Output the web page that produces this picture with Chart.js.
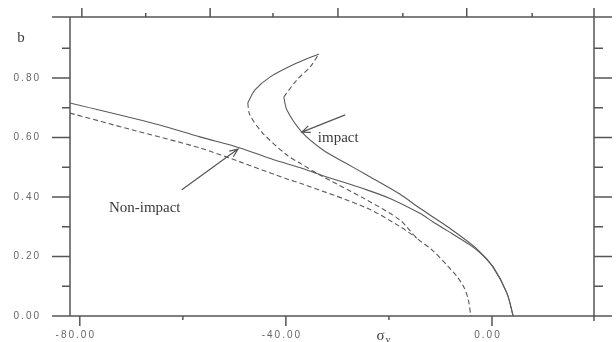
<!DOCTYPE html>
<html>
<head>
<meta charset="utf-8">
<script src="https://cdn.jsdelivr.net/npm/chart.js@4.4.1/dist/chart.umd.min.js"></script>
<style>
  html, body { margin: 0; padding: 0; background: #fff; }
  #wrap { width: 616px; height: 342px; }
</style>
</head>
<body>
<div id="wrap"><canvas id="chart"></canvas></div>
<script>
// Curves as [sigma_y, b] pairs
// impact curve, split where its line style changes
const impactRight = [[4.1, 0], [2.9, 0.077], [0.2, 0.165], [-2.9, 0.225], [-8.7, 0.301], [-14.0, 0.362],
    [-17.9, 0.410], [-24.3, 0.474], [-28.5, 0.515], [-32.8, 0.558], [-36.9, 0.618], [-39.8, 0.692], [-40.4, 0.736]];
const impactTipRight = [[-40.4, 0.736], [-37.9, 0.793], [-35.3, 0.837], [-33.6, 0.881]];
const impactTipLeft = [[-33.6, 0.881], [-37.9, 0.850], [-43.1, 0.803], [-46.0, 0.760], [-47.4, 0.716]];
const impactLeft = [[-47.4, 0.716], [-47.0, 0.676], [-44.5, 0.615], [-39.8, 0.541], [-37.3, 0.514],
    [-33.4, 0.474], [-24.3, 0.390], [-17.9, 0.323], [-14.6, 0.262], [-11.5, 0.220], [-8.7, 0.170],
    [-6.8, 0.133], [-5.4, 0.095], [-4.6, 0.055], [-4.1, 0]];

// non-impact curves (the dashed one joins the impact dashed line near -14.6)
const nonImpactSolid = [[-81.9, 0.716], [-64.5, 0.642], [-56.7, 0.602], [-48.9, 0.565], [-42.5, 0.526],
    [-37.3, 0.499], [-33.2, 0.474], [-24.3, 0.424], [-19.8, 0.395], [-14.0, 0.345], [-11.5, 0.317],
    [-8.7, 0.287], [-4.3, 0.239], [-2.3, 0.212], [0.2, 0.165], [2.9, 0.077], [4.1, 0]];
const nonImpactDashed = [[-81.9, 0.682], [-69.7, 0.625], [-56.7, 0.565], [-48.9, 0.518], [-39.2, 0.457],
    [-37.3, 0.447], [-24.3, 0.363], [-17.9, 0.301], [-14.6, 0.262]];

// axes
const xMin = -81.9, xMax = 19.8;
const yMin = 0, yMax = 1.005;
const xLabelValues = [-80, -40, 0];
const xMinorBottom = [-60, -20];
const xMajorTop = [-79.6, -54.7, -29.9, -4.9];
const xMinorTop = [-67.2, -42.5, -17.3, 7.8];
const yLabelValues = [0, 0.2, 0.4, 0.6, 0.8];
const yMinor = [0.1, 0.3, 0.5, 0.7, 0.9];

// annotations: text anchor and arrow [from, to]
const nonImpactText = { text: 'Non-impact', x: -67.4, y: 0.363 };
const nonImpactArrow = [[-60.2, 0.424], [-49.3, 0.561]];
const impactText = { text: 'impact', x: -33.8, y: 0.598 };
const impactArrow = [[-28.5, 0.676], [-36.9, 0.618]];
const xTitle = { x: -22.4, y: -0.067 };
const yTitle = { x: -91.4, y: 0.934 };

const ink = '#555';
const toPts = arr => arr.map(p => ({ x: p[0], y: p[1] }));

function curve(label, pts, dashed) {
    return {
        label,
        data: toPts(pts),
        showLine: true,
        borderColor: '#5a5a5a',
        borderWidth: 1.1,
        borderDash: dashed ? [5, 3] : [],
        pointRadius: 0,
        tension: 0.3,
        fill: false
    };
}

function arrow(ctx, x0, y0, x1, y1) {
    const a = Math.atan2(y1 - y0, x1 - x0);
    const head = 9;
    ctx.beginPath();
    ctx.moveTo(x0, y0);
    ctx.lineTo(x1, y1);
    ctx.moveTo(x1 - head * Math.cos(a - 0.4), y1 - head * Math.sin(a - 0.4));
    ctx.lineTo(x1, y1);
    ctx.lineTo(x1 - head * Math.cos(a + 0.4), y1 - head * Math.sin(a + 0.4));
    ctx.stroke();
}

const framePlugin = {
    id: 'frame',
    beforeDraw(chart) {
        chart.ctx.letterSpacing = '2px';
    },
    beforeDatasetsDraw(chart) {
        const ctx = chart.ctx;
        const { left, right, top, bottom } = chart.chartArea;
        const xs = chart.scales.x, ys = chart.scales.y;
        ctx.save();
        ctx.letterSpacing = '0px';
        ctx.strokeStyle = ink;
        ctx.lineWidth = 1.5;
        ctx.beginPath();
        ctx.moveTo(left - 18, top); ctx.lineTo(right + 18, top);
        ctx.moveTo(left - 18, bottom); ctx.lineTo(right + 18, bottom);
        ctx.moveTo(left, top); ctx.lineTo(left, bottom);
        ctx.moveTo(right, top - 9); ctx.lineTo(right, bottom + 5);
        // bottom ticks
        xLabelValues.forEach(v => { const px = xs.getPixelForValue(v); ctx.moveTo(px, bottom); ctx.lineTo(px, bottom + 10); });
        xMinorBottom.forEach(v => { const px = xs.getPixelForValue(v); ctx.moveTo(px, bottom); ctx.lineTo(px, bottom + 4); });
        // top ticks
        xMajorTop.forEach(v => { const px = xs.getPixelForValue(v); ctx.moveTo(px, top); ctx.lineTo(px, top - 9); });
        xMinorTop.forEach(v => { const px = xs.getPixelForValue(v); ctx.moveTo(px, top); ctx.lineTo(px, top - 4); });
        // left and right ticks
        yLabelValues.forEach(v => {
            const py = ys.getPixelForValue(v);
            ctx.moveTo(left - 18, py); ctx.lineTo(left, py);
            ctx.moveTo(right, py); ctx.lineTo(right + 18, py);
        });
        yMinor.forEach(v => {
            const py = ys.getPixelForValue(v);
            ctx.moveTo(left - 8, py); ctx.lineTo(left, py);
            ctx.moveTo(right, py); ctx.lineTo(right + 9, py);
        });
        ctx.stroke();
        ctx.restore();
    },
    afterDatasetsDraw(chart) {
        const ctx = chart.ctx;
        const xs = chart.scales.x, ys = chart.scales.y;
        const X = v => xs.getPixelForValue(v), Y = v => ys.getPixelForValue(v);
        ctx.save();
        ctx.letterSpacing = '0px';
        ctx.strokeStyle = '#555';
        ctx.lineWidth = 1.2;
        arrow(ctx, X(nonImpactArrow[0][0]), Y(nonImpactArrow[0][1]), X(nonImpactArrow[1][0]), Y(nonImpactArrow[1][1]));
        arrow(ctx, X(impactArrow[0][0]), Y(impactArrow[0][1]), X(impactArrow[1][0]), Y(impactArrow[1][1]));

        ctx.fillStyle = '#3a3a3a';
        ctx.font = '15px "Liberation Serif"';
        ctx.textBaseline = 'middle';
        ctx.textAlign = 'center';
        ctx.fillText(nonImpactText.text, X(nonImpactText.x), Y(nonImpactText.y));
        ctx.textAlign = 'left';
        ctx.fillText(impactText.text, X(impactText.x), Y(impactText.y));

        // axis titles
        ctx.textAlign = 'center';
        ctx.fillText('b', X(yTitle.x), Y(yTitle.y));
        const sx = X(xTitle.x), sy = Y(xTitle.y);
        ctx.textAlign = 'left';
        ctx.fillText('σ', sx, sy);
        ctx.font = '10px "Liberation Serif"';
        ctx.fillText('y', sx + 9, sy + 4);
        ctx.restore();
    }
};

new Chart(document.getElementById('chart'), {
    type: 'scatter',
    data: {
        datasets: [
            curve('impact', impactRight, false),
            curve('impact (upper right)', impactTipRight, true),
            curve('impact (upper left)', impactTipLeft, false),
            curve('impact (left)', impactLeft, true),
            curve('Non-impact', nonImpactSolid, false),
            curve('Non-impact (dashed)', nonImpactDashed, true)
        ]
    },
    options: {
        responsive: true,
        maintainAspectRatio: false,
        animation: false,
        layout: { padding: { top: 17, right: 22, left: 0, bottom: 0 } },
        plugins: { legend: { display: false }, tooltip: { enabled: false } },
        scales: {
            x: {
                type: 'linear',
                min: xMin,
                max: xMax,
                grid: { display: false, drawTicks: false },
                border: { display: false },
                afterBuildTicks: s => { s.ticks = xLabelValues.map(v => ({ value: v })); },
                afterFit: s => { s.height = 26; s.paddingLeft = 0; s.paddingRight = 0; },
                ticks: {
                    autoSkip: false,
                    maxRotation: 0,
                    padding: 13,
                    labelOffset: -4,
                    color: '#666',
                    font: { family: 'Liberation Sans', size: 10 },
                    callback: v => v.toFixed(2)
                }
            },
            y: {
                type: 'linear',
                min: yMin,
                max: yMax,
                grid: { display: false, drawTicks: false },
                border: { display: false },
                afterBuildTicks: s => { s.ticks = yLabelValues.map(v => ({ value: v })); },
                afterFit: s => { s.width = 70; s.paddingTop = 0; s.paddingBottom = 0; },
                ticks: {
                    padding: 29,
                    color: '#666',
                    font: { family: 'Liberation Sans', size: 10 },
                    callback: v => v.toFixed(2)
                }
            }
        }
    },
    plugins: [framePlugin]
});
</script>
</body>
</html>
